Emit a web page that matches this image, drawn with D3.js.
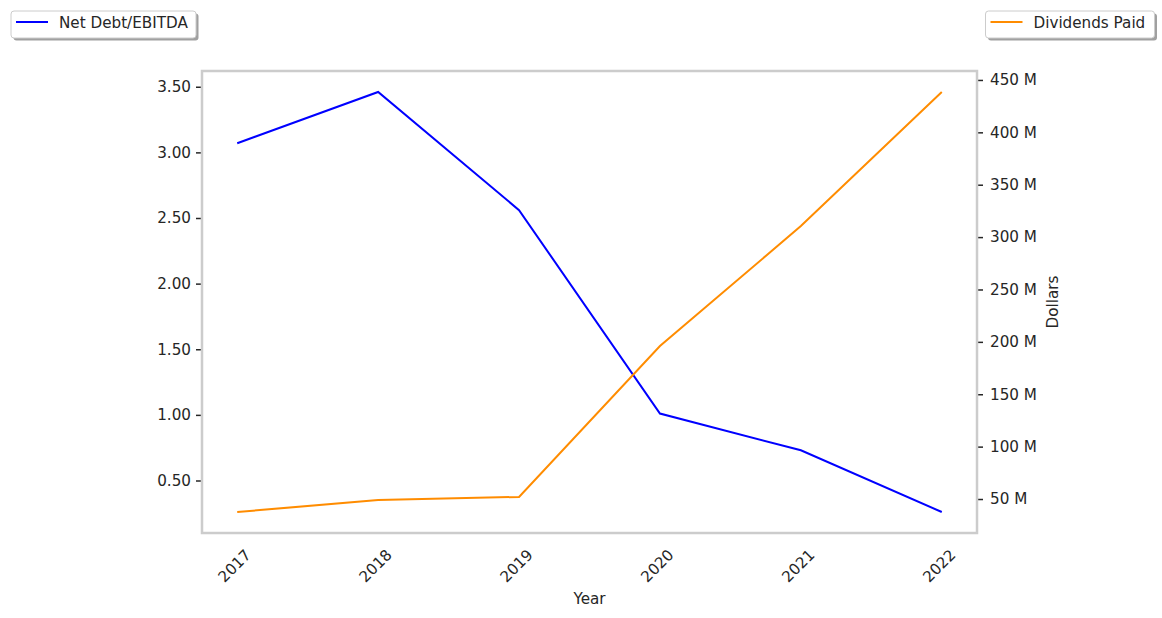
<!DOCTYPE html>
<html>
<head>
<meta charset="utf-8">
<script src="https://cdn.jsdelivr.net/npm/d3@7"></script>
<style>
  body { margin: 0; background: #fff; }
  text { font-family: "DejaVu Sans", sans-serif; fill: #262626; }
</style>
</head>
<body>
<svg id="chart" width="1162" height="618"></svg>
<script>
const years = [2017, 2018, 2019, 2020, 2021, 2022];
const netDebtEbitda = [3.07, 3.46, 2.56, 1.01, 0.73, 0.26];
const dividendsPaid = [37.6e6, 49e6, 52e6, 196e6, 310.5e6, 438.5e6];
const leftTicks = [0.5, 1.0, 1.5, 2.0, 2.5, 3.0, 3.5];
const rightTicks = [50e6, 100e6, 150e6, 200e6, 250e6, 300e6, 350e6, 400e6, 450e6];

const svg = d3.select("#chart");
const L = 202, R = 977, T = 71, B = 533;
const FS = "15.2px";

function padDomain(arr) {
  const mn = d3.min(arr), mx = d3.max(arr), p = (mx - mn) * 0.05;
  return [mn - p, mx + p];
}
const x = d3.scaleLinear().domain(padDomain(years)).range([L, R]);
const yL = d3.scaleLinear().domain(padDomain(netDebtEbitda)).range([B, T]);
const yR = d3.scaleLinear().domain(padDomain(dividendsPaid)).range([B, T]);

// left axis
const axL = svg.append("g").attr("transform", `translate(${L - 1},0)`)
  .call(d3.axisLeft(yL).tickValues(leftTicks).tickFormat(d3.format(".2f")).tickSize(5).tickPadding(5));
axL.select(".domain").remove();
axL.selectAll("line").attr("stroke", "#262626").attr("stroke-width", 1.5);
axL.selectAll("text").style("font-size", FS).attr("fill", "#262626");

// right axis
const axR = svg.append("g").attr("transform", `translate(${R + 1},0)`)
  .call(d3.axisRight(yR).tickValues(rightTicks).tickFormat(d => (d / 1e6) + " M").tickSize(5).tickPadding(7));
axR.select(".domain").remove();
axR.selectAll("line").attr("stroke", "#262626").attr("stroke-width", 1.5);
axR.selectAll("text").style("font-size", FS).attr("fill", "#262626");

// x axis labels (rotated)
const axX = svg.append("g").attr("transform", `translate(0,${B})`)
  .call(d3.axisBottom(x).tickValues(years).tickFormat(d3.format("d")).tickSize(0));
axX.select(".domain").remove();
axX.selectAll(".tick text")
  .style("font-size", FS).attr("fill", "#262626")
  .attr("text-anchor", "middle").attr("dy", null).attr("y", null)
  .attr("dominant-baseline", "central")
  .attr("transform", "translate(-3,33) rotate(-45)");

// frame
svg.append("rect").attr("x", L).attr("y", T).attr("width", R - L).attr("height", B - T)
  .attr("fill", "none").attr("stroke", "#cccccc").attr("stroke-width", 2.5);

// lines
svg.append("path").datum(years.map((y, i) => [y, netDebtEbitda[i]]))
  .attr("fill", "none").attr("stroke", "#0000ff").attr("stroke-width", 2)
  .attr("d", d3.line().x(d => x(d[0])).y(d => yL(d[1])));
svg.append("path").datum(years.map((y, i) => [y, dividendsPaid[i]]))
  .attr("fill", "none").attr("stroke", "#ff8c00").attr("stroke-width", 2)
  .attr("d", d3.line().x(d => x(d[0])).y(d => yR(d[1])));

// axis labels
svg.append("text").attr("x", (L + R) / 2).attr("y", 604).attr("text-anchor", "middle")
  .style("font-size", FS).text("Year");
svg.append("text").attr("transform", `translate(1058,${(T + B) / 2}) rotate(-90)`)
  .attr("text-anchor", "middle").style("font-size", FS).text("Dollars");

// legends
function legend(x0, w, color, label) {
  const g = svg.append("g");
  g.append("rect").attr("x", x0 + 2.5).attr("y", 13.5).attr("width", w).attr("height", 27)
    .attr("rx", 3).attr("fill", "#888").attr("opacity", 0.8);
  g.append("rect").attr("x", x0).attr("y", 11).attr("width", w).attr("height", 27)
    .attr("rx", 3).attr("fill", "#fff").attr("stroke", "#cccccc").attr("stroke-width", 1);
  g.append("line").attr("x1", x0 + 5).attr("x2", x0 + 37).attr("y1", 22).attr("y2", 22)
    .attr("stroke", color).attr("stroke-width", 2);
  g.append("text").attr("x", x0 + 48).attr("y", 28).style("font-size", FS).text(label);
}
legend(11, 185, "#0000ff", "Net Debt/EBITDA");
legend(985.5, 169, "#ff8c00", "Dividends Paid");
</script>
</body>
</html>
